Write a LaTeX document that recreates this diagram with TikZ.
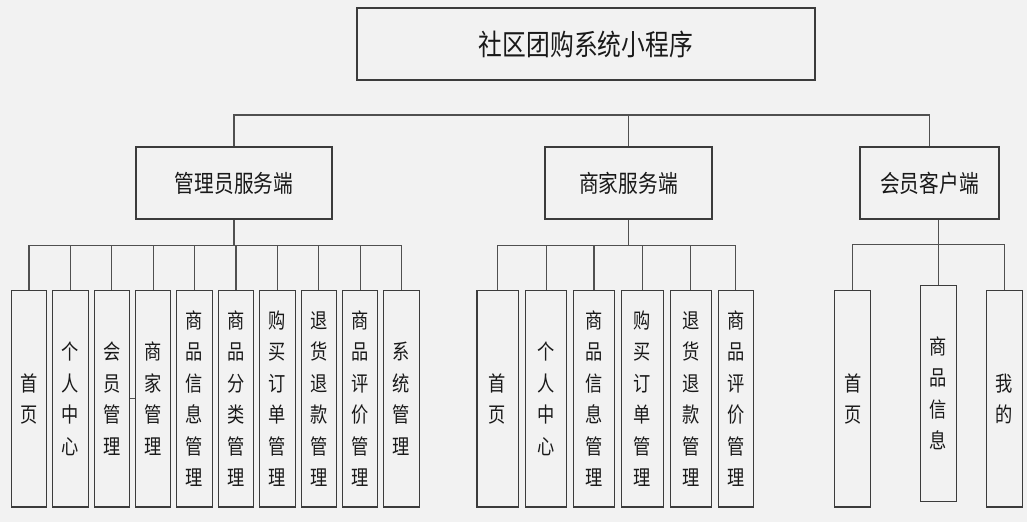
\documentclass[tikz,border=0pt]{standalone}
\usepackage{fontspec}
\newfontfamily\cjk[FakeStretch=0.82]{Noto Sans CJK SC}
\definecolor{bgse}{HTML}{F2F2F2}
\definecolor{kuangse}{HTML}{3C3C3C}
\definecolor{xianse}{HTML}{505050}
\begin{document}
\begin{tikzpicture}[x=1pt,y=-1pt,
    kuang/.style={draw=kuangse,line width=1.1pt,fill=bgse,inner sep=0pt,text=black!90},
    dingbox/.style={kuang,minimum width=458pt,minimum height=72pt,font=\cjk\fontsize{29}{32}\selectfont},
    duanbox/.style={kuang,minimum height=72pt,font=\cjk\fontsize{24}{27}\selectfont},
    gnbox/.style={kuang,minimum height=216.3pt,align=center,font=\cjk\fontsize{21}{31.5}\selectfont},
    lian/.style={draw=xianse,line width=1.1pt}]
    % 背景
    \fill[bgse] (0,0) rectangle (1027,522);
    \useasboundingbox (0,0) rectangle (1027,522);

    % 顶层
    \node [dingbox] (xt) at (586,44) {社区团购系统小程序};

    % 三个端
    \node [duanbox,minimum width=196pt] (gly) at (234,183) {管理员服务端};
    \node [duanbox,minimum width=167pt] (sj) at (628.5,183) {商家服务端};
    \node [duanbox,minimum width=139pt] (hy) at (929.5,183) {会员客户端};

    \coordinate (zbus) at (629,115);
    \draw [lian] (gly.north) |- (zbus) -| (hy.north);
    \draw [lian] (sj.north) -- (sj.north |- zbus);

    % 管理员服务端的功能
    \foreach \t [count=\i] in {{首\\页},{个\\人\\中\\心},{会\\员\\管\\理},{商\\家\\管\\理},
        {商\\品\\信\\息\\管\\理},{商\\品\\分\\类\\管\\理},{购\\买\\订\\单\\管\\理},
        {退\\货\\退\\款\\管\\理},{商\\品\\评\\价\\管\\理},{系\\统\\管\\理}}
        \node [gnbox,minimum width=35.4pt] (a\i) at ({29+41.4*(\i-1)},398.85) {\t};

    \draw [lian] (gly.south) -- ++(0,25.7) coordinate (gbus);
    \draw [lian] (a1.north) |- (gbus) -| (a10.north);
    \foreach \i in {2,...,9}
        \draw [lian] (a\i.north) -- (a\i.north |- gbus);
    \draw [lian] (a3.east) -- (a4.west);

    % 商家服务端的功能
    \foreach \cx/\w/\t [count=\i] in {497.6/41.2/{首\\页},546.1/41.2/{个\\人\\中\\心},
        594/41.6/{商\\品\\信\\息\\管\\理},642.5/41.6/{购\\买\\订\\单\\管\\理},
        690.75/41.3/{退\\货\\退\\款\\管\\理},735.75/35.1/{商\\品\\评\\价\\管\\理}}
        \node [gnbox,minimum width=\w pt] (m\i) at (\cx,398.85) {\t};

    \draw [lian] (sj.south) -- ++(0,25.7) coordinate (sbus);
    \draw [lian] (m1.north) |- (sbus) -| (m6.north);
    \foreach \i in {2,...,5}
        \draw [lian] (m\i.north) -- (m\i.north |- sbus);

    % 会员客户端的功能
    \node [gnbox,minimum width=36pt] (c1) at (852.7,398.85) {首\\页};
    \node [gnbox,minimum width=35.8pt] (c2) at (938.3,393.35) {商\\品\\信\\息};
    \node [gnbox,minimum width=35.8pt] (c3) at (1004.5,398.85) {我\\的};

    \coordinate (hbus) at (938.3,244.7);
    \draw [lian] (hy.south -| c2.north) -- (c2.north);
    \draw [lian] (c1.north) |- (hbus) -| (c3.north);
\end{tikzpicture}
\end{document}
